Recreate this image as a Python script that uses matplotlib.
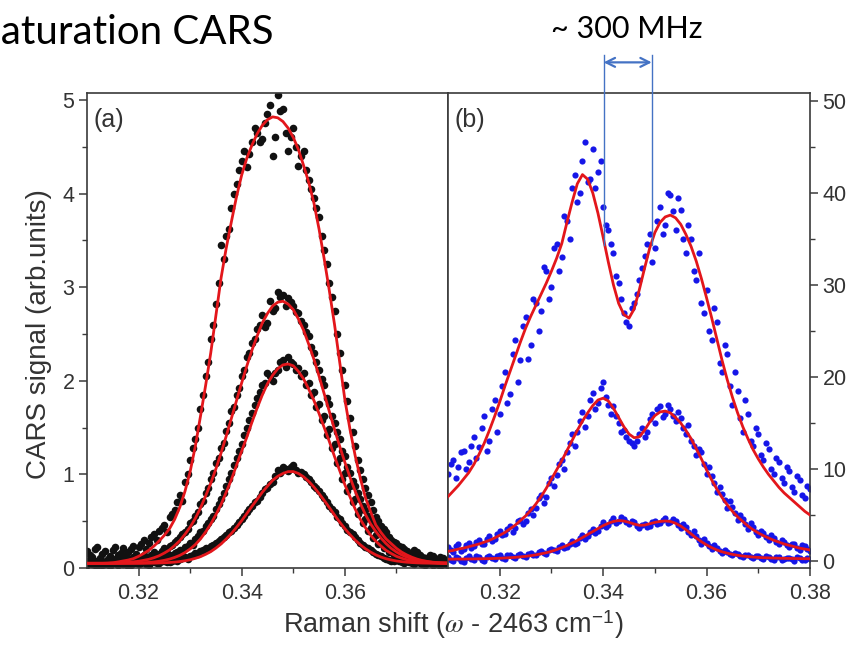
import numpy as np
import matplotlib.pyplot as plt
from matplotlib.ticker import FixedLocator

plt.rcParams['font.family'] = ['Liberation Sans', 'DejaVu Sans']
plt.rcParams['mathtext.fontset'] = 'stix'

# Raman shift grid (omega - 2463 cm^-1): samples every 0.001 plus the in-between ones
raman_shift = np.round(np.arange(0.310, 0.3805, 0.001), 4)
raman_shift_half = np.round(np.arange(0.3105, 0.3800, 0.001), 4)

# ---- panel (a): four pump powers, black data + red fits ----
a1_signal = [0.18, 0.12, 0.22, 0.15, 0.10, 0.19, 0.14, 0.21, 0.17, 0.24,
             0.22, 0.30, 0.27, 0.36, 0.40, 0.46, 0.55, 0.62, 0.78, 0.92,
             1.15, 1.38, 1.70, 2.05, 2.45, 2.82, 3.45, 3.55, 3.85, 4.10,
             4.35, 4.28, 4.55, 4.65, 4.58, 4.85, 4.40, 5.05, 4.90, 4.45,
             4.70, 4.30, 4.45, 4.15, 3.95, 3.75, 3.40, 3.05, 2.75, 2.30,
             1.95, 1.60, 1.30, 1.05, 0.85, 0.70, 0.55, 0.45, 0.38, 0.30,
             0.27, 0.22, 0.18, 0.15, 0.17, 0.12, 0.10, 0.13, 0.09, 0.11, 0.08]
a1_signal_half = [0.14, 0.20, 0.11, 0.18, 0.13, 0.22, 0.16, 0.12, 0.20, 0.15,
                  0.26, 0.20, 0.33, 0.30, 0.43, 0.38, 0.58, 0.70, 0.72, 1.00,
                  1.28, 1.50, 1.85, 2.20, 2.60, 3.05, 3.30, 3.62, 4.00, 4.25,
                  4.45, 4.42, 4.70, 4.55, 4.75, 4.95, 4.60, 4.88, 4.65, 4.60,
                  4.50, 4.40, 4.25, 4.05, 3.85, 3.55, 3.25, 2.90, 2.50, 2.12,
                  1.78, 1.45, 1.15, 0.95, 0.78, 0.62, 0.50, 0.42, 0.33, 0.28,
                  0.24, 0.20, 0.16, 0.19, 0.14, 0.11, 0.14, 0.10, 0.12, 0.09]
a1_fit = [0.05, 0.05, 0.05, 0.05, 0.05, 0.055, 0.065, 0.075, 0.085, 0.10,
          0.125, 0.155, 0.19, 0.235, 0.29, 0.35, 0.42, 0.52, 0.65, 0.82,
          1.03, 1.30, 1.62, 1.95, 2.30, 2.70, 3.10, 3.42, 3.70, 3.97,
          4.20, 4.38, 4.52, 4.64, 4.73, 4.79, 4.82, 4.81, 4.77, 4.70,
          4.60, 4.47, 4.30, 4.12, 3.90, 3.62, 3.30, 2.96, 2.60, 2.20,
          1.80, 1.48, 1.20, 0.96, 0.75, 0.60, 0.46, 0.38, 0.31, 0.26,
          0.21, 0.17, 0.14, 0.115, 0.095, 0.08, 0.07, 0.06, 0.055, 0.05, 0.05]

a2_signal = [0.06, 0.09, 0.04, 0.08, 0.05, 0.10, 0.07, 0.11, 0.08, 0.12,
             0.10, 0.14, 0.12, 0.17, 0.15, 0.21, 0.24, 0.28, 0.33, 0.38,
             0.48, 0.56, 0.68, 0.80, 0.95, 1.12, 1.28, 1.46, 1.68, 1.85,
             2.05, 2.25, 2.40, 2.55, 2.70, 2.62, 2.75, 2.95, 2.92, 2.88,
             2.80, 2.72, 2.60, 2.48, 2.30, 2.12, 1.95, 1.75, 1.55, 1.38,
             1.20, 1.02, 0.88, 0.74, 0.62, 0.52, 0.44, 0.36, 0.30, 0.25,
             0.22, 0.18, 0.15, 0.13, 0.12, 0.10, 0.09, 0.10, 0.08, 0.07, 0.09]
a2_signal_half = [0.07, 0.05, 0.09, 0.06, 0.08, 0.05, 0.09, 0.07, 0.10, 0.08,
                  0.11, 0.09, 0.14, 0.13, 0.18, 0.20, 0.25, 0.30, 0.36, 0.42,
                  0.50, 0.60, 0.72, 0.86, 1.02, 1.18, 1.34, 1.55, 1.72, 1.92,
                  2.12, 2.30, 2.45, 2.60, 2.58, 2.85, 2.78, 2.90, 2.80, 2.84,
                  2.74, 2.64, 2.52, 2.36, 2.20, 2.02, 1.82, 1.62, 1.45, 1.25,
                  1.08, 0.93, 0.80, 0.66, 0.56, 0.46, 0.39, 0.32, 0.27, 0.22,
                  0.18, 0.16, 0.13, 0.11, 0.09, 0.11, 0.08, 0.09, 0.06, 0.08]
a2_fit = [0.05, 0.05, 0.05, 0.05, 0.052, 0.053, 0.055, 0.058, 0.061, 0.066,
          0.072, 0.082, 0.093, 0.11, 0.131, 0.16, 0.193, 0.24, 0.292, 0.36,
          0.437, 0.53, 0.64, 0.77, 0.906, 1.06, 1.23, 1.41, 1.60, 1.79,
          1.98, 2.16, 2.33, 2.48, 2.62, 2.72, 2.80, 2.84, 2.85, 2.82,
          2.76, 2.66, 2.54, 2.39, 2.23, 2.05, 1.86, 1.67, 1.48, 1.30,
          1.13, 0.97, 0.82, 0.69, 0.57, 0.47, 0.39, 0.32, 0.26, 0.21,
          0.171, 0.14, 0.117, 0.10, 0.086, 0.076, 0.068, 0.062, 0.058, 0.056, 0.054]

a3_signal = [0.07, 0.04, 0.06, 0.03, 0.07, 0.05, 0.08, 0.04, 0.07, 0.06,
             0.09, 0.07, 0.10, 0.08, 0.11, 0.12, 0.14, 0.16, 0.19, 0.22,
             0.27, 0.31, 0.38, 0.45, 0.52, 0.63, 0.74, 0.88, 1.02, 1.18,
             1.32, 1.50, 1.66, 1.82, 1.95, 2.08, 2.00, 2.12, 2.22, 2.25,
             2.18, 2.14, 2.08, 1.98, 1.88, 1.75, 1.62, 1.48, 1.32, 1.18,
             1.02, 0.88, 0.74, 0.62, 0.52, 0.43, 0.35, 0.28, 0.23, 0.18,
             0.15, 0.12, 0.10, 0.09, 0.07, 0.08, 0.06, 0.07, 0.05, 0.06, 0.05]
a3_signal_half = [0.05, 0.07, 0.04, 0.06, 0.05, 0.07, 0.05, 0.06, 0.08, 0.05,
                  0.08, 0.06, 0.09, 0.10, 0.09, 0.13, 0.12, 0.17, 0.18, 0.24,
                  0.25, 0.34, 0.40, 0.48, 0.56, 0.68, 0.80, 0.95, 1.10, 1.25,
                  1.42, 1.58, 1.74, 1.88, 1.98, 2.05, 2.08, 2.20, 2.15, 2.20,
                  2.12, 2.05, 1.96, 1.85, 1.72, 1.58, 1.42, 1.28, 1.12, 0.95,
                  0.82, 0.70, 0.58, 0.48, 0.40, 0.32, 0.26, 0.21, 0.17, 0.14,
                  0.12, 0.10, 0.08, 0.09, 0.06, 0.07, 0.05, 0.06, 0.04, 0.06]
a3_fit = [0.05, 0.05, 0.05, 0.05, 0.05, 0.05, 0.05, 0.051, 0.052, 0.053,
          0.054, 0.057, 0.06, 0.065, 0.072, 0.082, 0.095, 0.113, 0.135, 0.165,
          0.203, 0.25, 0.31, 0.385, 0.47, 0.57, 0.68, 0.81, 0.945, 1.10,
          1.25, 1.40, 1.56, 1.71, 1.85, 1.97, 2.06, 2.13, 2.17, 2.18,
          2.16, 2.10, 2.02, 1.91, 1.79, 1.65, 1.50, 1.35, 1.19, 1.04,
          0.89, 0.76, 0.63, 0.52, 0.43, 0.35, 0.286, 0.235, 0.188, 0.155,
          0.125, 0.105, 0.089, 0.078, 0.069, 0.063, 0.059, 0.056, 0.054, 0.053, 0.052]

a4_signal = [0.03, 0.06, 0.02, 0.05, 0.04, 0.07, 0.03, 0.06, 0.02, 0.05,
             0.04, 0.07, 0.03, 0.06, 0.05, 0.08, 0.06, 0.09, 0.10, 0.12,
             0.13, 0.16, 0.18, 0.21, 0.24, 0.27, 0.31, 0.35, 0.40, 0.46,
             0.52, 0.60, 0.66, 0.72, 0.80, 0.86, 0.92, 1.05, 1.08, 1.04,
             1.10, 1.02, 1.00, 0.95, 0.88, 0.82, 0.75, 0.66, 0.60, 0.52,
             0.45, 0.38, 0.33, 0.27, 0.22, 0.19, 0.15, 0.13, 0.10, 0.08,
             0.09, 0.06, 0.07, 0.05, 0.06, 0.04, 0.05, 0.03, 0.05, 0.04, 0.03]
a4_signal_half = [0.05, 0.03, 0.06, 0.04, 0.02, 0.05, 0.07, 0.04, 0.03, 0.06,
                  0.05, 0.04, 0.07, 0.05, 0.07, 0.06, 0.08, 0.08, 0.11, 0.10,
                  0.14, 0.15, 0.19, 0.20, 0.25, 0.29, 0.33, 0.38, 0.43, 0.49,
                  0.56, 0.63, 0.70, 0.76, 0.84, 0.90, 0.98, 1.02, 1.06, 1.08,
                  1.05, 1.03, 0.97, 0.92, 0.85, 0.78, 0.70, 0.63, 0.55, 0.48,
                  0.41, 0.36, 0.30, 0.25, 0.21, 0.17, 0.14, 0.11, 0.09, 0.08,
                  0.07, 0.05, 0.06, 0.04, 0.05, 0.03, 0.05, 0.04, 0.02, 0.04]
a4_fit = [0.05, 0.05, 0.05, 0.05, 0.05, 0.05, 0.05, 0.05, 0.05, 0.05,
          0.05, 0.05, 0.051, 0.052, 0.054, 0.056, 0.059, 0.063, 0.069, 0.077,
          0.088, 0.103, 0.121, 0.146, 0.175, 0.213, 0.257, 0.31, 0.368, 0.435,
          0.506, 0.583, 0.66, 0.735, 0.81, 0.875, 0.937, 0.98, 1.01, 1.03,
          1.03, 1.01, 0.974, 0.925, 0.865, 0.795, 0.722, 0.645, 0.566, 0.49,
          0.42, 0.356, 0.298, 0.248, 0.205, 0.17, 0.14, 0.117, 0.099, 0.086,
          0.075, 0.068, 0.062, 0.058, 0.055, 0.053, 0.052, 0.051, 0.05, 0.05, 0.05]

# ---- panel (b): three pump powers, blue data + red fits ----
b1_signal = [9.5, 11.0, 10.2, 12.0, 10.8, 13.5, 12.4, 15.8, 13.0, 17.5,
             16.0, 20.5, 18.2, 24.0, 21.8, 26.5, 23.5, 28.0, 27.2, 31.5,
             29.8, 34.5, 33.0, 37.0, 40.5, 39.0, 43.5, 41.2, 44.8, 42.3,
             38.5, 36.0, 33.5, 30.2, 27.0, 25.5, 28.0, 30.5, 33.2, 35.5,
             34.0, 38.5, 36.5, 39.8, 36.0, 38.2, 33.5, 35.0, 30.5, 28.0,
             29.5, 24.0, 26.0, 20.5, 22.5, 17.0, 18.5, 14.0, 16.0, 12.5,
             13.8, 11.0, 12.2, 9.5, 10.8, 8.5, 9.8, 7.5, 8.8, 6.8, 7.8]
b1_signal_half = [10.5, 9.0, 11.8, 10.0, 12.5, 11.2, 14.5, 12.0, 16.5, 14.0,
                  19.0, 17.2, 22.5, 19.5, 25.5, 22.0, 28.5, 25.0, 32.0, 28.5,
                  34.0, 31.5, 37.5, 35.0, 42.0, 40.0, 45.5, 41.5, 40.5, 43.5,
                  36.5, 34.5, 31.0, 28.5, 26.0, 27.5, 29.0, 31.8, 34.5, 32.5,
                  37.0, 35.5, 40.0, 38.0, 39.5, 35.0, 36.5, 31.5, 33.5, 27.0,
                  25.0, 27.5, 21.5, 23.5, 19.0, 20.5, 15.5, 17.5, 13.0, 14.5,
                  11.5, 12.8, 10.0, 11.2, 9.0, 10.2, 8.0, 9.2, 7.2, 8.2]
b1_fit = [7.0, 7.6, 8.2, 8.9, 9.6, 10.5, 11.6, 12.8, 14.2, 15.7,
          17.3, 19.0, 20.6, 22.2, 23.8, 25.3, 26.6, 27.8, 29.0, 30.2,
          31.5, 32.9, 34.5, 36.8, 39.0, 41.0, 42.0, 41.5, 40.0, 37.8,
          35.2, 32.5, 30.0, 28.0, 26.8, 26.4, 27.4, 29.5, 31.8, 34.0,
          35.7, 36.8, 37.4, 37.6, 37.3, 36.6, 35.5, 34.2, 32.6, 30.7,
          28.6, 26.4, 24.1, 21.8, 19.7, 17.8, 16.1, 14.6, 13.3, 12.1,
          11.1, 10.2, 9.4, 8.7, 8.0, 7.4, 6.9, 6.4, 5.9, 5.4, 5.0]

b2_signal = [1.5, 1.0, 1.8, 1.3, 2.0, 1.6, 2.3, 1.9, 2.7, 2.4,
             3.3, 2.9, 3.8, 3.6, 4.5, 4.3, 5.6, 5.8, 7.2, 7.0,
             9.0, 9.3, 11.0, 11.8, 13.8, 14.0, 16.2, 15.8, 18.3, 17.2,
             19.5, 17.0, 16.8, 15.0, 14.2, 13.0, 12.5, 13.8, 13.5, 15.4,
             15.0, 16.8, 16.0, 16.5, 15.2, 15.5, 13.8, 13.0, 11.5, 11.8,
             9.5, 9.2, 7.5, 7.3, 5.8, 5.9, 4.5, 4.6, 3.5, 3.7,
             2.8, 3.0, 2.3, 2.5, 1.9, 2.1, 1.5, 1.8, 1.2, 1.6, 1.1]
b2_signal_half = [1.2, 1.6, 1.1, 1.7, 1.4, 2.1, 1.8, 2.4, 2.2, 2.9,
                  2.8, 3.5, 3.2, 4.3, 4.0, 5.2, 5.0, 6.8, 6.3, 8.5,
                  8.2, 10.5, 10.0, 12.8, 12.5, 15.2, 14.6, 17.5, 16.5, 18.8,
                  17.8, 16.0, 15.8, 14.0, 13.5, 12.8, 13.0, 14.5, 14.0, 16.0,
                  16.5, 15.6, 17.0, 15.8, 16.2, 14.5, 14.8, 12.5, 12.2, 10.5,
                  10.2, 8.5, 8.0, 6.6, 6.5, 5.2, 5.0, 4.0, 4.1, 3.2,
                  3.3, 2.6, 2.8, 2.1, 2.3, 1.7, 1.9, 1.4, 1.7, 1.3]
b2_fit = [1.05, 1.15, 1.3, 1.4, 1.55, 1.7, 1.85, 2.05, 2.25, 2.5,
          2.8, 3.1, 3.5, 3.9, 4.4, 4.9, 5.5, 6.2, 7.0, 7.9,
          8.9, 9.9, 10.9, 12.0, 13.1, 14.2, 15.2, 16.1, 16.9, 17.5,
          17.7, 17.4, 16.6, 15.6, 14.6, 13.8, 13.4, 13.5, 14.2, 15.1,
          15.8, 16.2, 16.3, 16.1, 15.6, 15.0, 14.2, 13.3, 12.2, 11.1,
          9.9, 8.8, 7.8, 6.9, 6.1, 5.4, 4.8, 4.3, 3.8, 3.4,
          3.05, 2.75, 2.5, 2.25, 2.05, 1.85, 1.7, 1.55, 1.4, 1.3, 1.2]

b3_signal = [0.4, 0.0, 0.3, -0.1, 0.5, 0.1, 0.4, 0.0, 0.5, 0.2,
             0.6, 0.2, 0.7, 0.3, 0.8, 0.4, 0.9, 0.6, 1.1, 0.8,
             1.3, 1.1, 1.7, 1.5, 2.2, 2.0, 2.8, 2.7, 3.5, 3.3,
             4.2, 3.9, 4.7, 4.3, 4.6, 4.0, 4.2, 3.6, 4.0, 3.8,
             4.4, 4.1, 4.7, 4.2, 4.4, 3.6, 3.7, 2.8, 2.7, 1.9,
             2.0, 1.3, 1.4, 0.9, 1.0, 0.6, 0.8, 0.4, 0.6, 0.3,
             0.5, 0.2, 0.4, 0.1, 0.4, 0.2, 0.3, 0.0, 0.3, 0.1, 0.2]
b3_signal_half = [0.1, 0.4, 0.0, 0.3, 0.2, 0.5, 0.1, 0.4, 0.3, 0.5,
                  0.3, 0.6, 0.4, 0.7, 0.5, 0.8, 0.7, 1.0, 0.9, 1.2,
                  1.2, 1.5, 1.4, 1.9, 1.8, 2.5, 2.4, 3.1, 3.0, 3.8,
                  3.7, 4.4, 4.1, 4.8, 4.2, 4.3, 3.8, 3.9, 3.7, 4.2,
                  4.0, 4.5, 4.1, 4.6, 3.9, 4.0, 3.2, 3.3, 2.3, 2.4,
                  1.6, 1.7, 1.1, 1.2, 0.8, 0.9, 0.5, 0.7, 0.4, 0.5,
                  0.3, 0.5, 0.2, 0.4, 0.1, 0.3, 0.2, 0.4, 0.1, 0.3]
b3_fit = [0.20, 0.20, 0.21, 0.21, 0.22, 0.23, 0.24, 0.25, 0.26, 0.28,
          0.30, 0.33, 0.36, 0.40, 0.45, 0.51, 0.58, 0.67, 0.78, 0.90,
          1.05, 1.24, 1.45, 1.69, 1.95, 2.24, 2.55, 2.88, 3.20, 3.53,
          3.85, 4.10, 4.30, 4.40, 4.35, 4.20, 4.02, 3.88, 3.90, 4.05,
          4.20, 4.30, 4.35, 4.30, 4.10, 3.80, 3.40, 2.95, 2.50, 2.10,
          1.75, 1.45, 1.20, 1.00, 0.85, 0.72, 0.62, 0.54, 0.48, 0.43,
          0.39, 0.36, 0.34, 0.32, 0.30, 0.29, 0.28, 0.27, 0.26, 0.25, 0.25]

# splitting marked above panel (b): the two peaks of the middle trace
split_x = [0.3401, 0.3494]

red = '#e3161b'
blue_dots = '#1616e8'
note_blue = '#4472c4'
axis_grey = '#3a3a3a'

fig = plt.figure(figsize=(8.54, 6.48), dpi=100)
ax1 = fig.add_axes([87 / 854, 80 / 648, 361 / 854, 475 / 648])
ax2 = fig.add_axes([448 / 854, 80 / 648, 362 / 854, 475 / 648])

a_data = [(a1_signal, a1_signal_half, a1_fit), (a2_signal, a2_signal_half, a2_fit),
          (a3_signal, a3_signal_half, a3_fit), (a4_signal, a4_signal_half, a4_fit)]
for sig, sig_half, fit in a_data:
    ax1.scatter(raman_shift, sig, s=30, c='#111111', linewidths=0, zorder=2)
    ax1.scatter(raman_shift_half, sig_half, s=30, c='#111111', linewidths=0, zorder=2)
    ax1.plot(raman_shift, fit, color=red, lw=2, zorder=3)

b_data = [(b1_signal, b1_signal_half, b1_fit), (b2_signal, b2_signal_half, b2_fit),
          (b3_signal, b3_signal_half, b3_fit)]
for sig, sig_half, fit in b_data:
    ax2.scatter(raman_shift, sig, s=20, c=blue_dots, linewidths=0, zorder=2)
    ax2.scatter(raman_shift_half, sig_half, s=20, c=blue_dots, linewidths=0, zorder=2)
    ax2.plot(raman_shift, fit, color=red, lw=2, zorder=3)

ax1.set_xlim(0.31, 0.38)
ax1.set_ylim(0, 5.075)
ax2.set_xlim(0.31, 0.38)
ax2.set_ylim(-0.76, 50.87)

ax1.xaxis.set_major_locator(FixedLocator([0.32, 0.34, 0.36]))
ax1.xaxis.set_minor_locator(FixedLocator([0.33, 0.35, 0.37]))
ax1.yaxis.set_major_locator(FixedLocator([0, 1, 2, 3, 4, 5]))
ax1.yaxis.set_minor_locator(FixedLocator([0.5, 1.5, 2.5, 3.5, 4.5]))
ax1.set_xticklabels(['0.32', '0.34', '0.36'])

ax2.xaxis.set_major_locator(FixedLocator([0.32, 0.34, 0.36, 0.38]))
ax2.xaxis.set_minor_locator(FixedLocator([0.33, 0.35, 0.37]))
ax2.set_xticklabels(['0.32', '0.34', '0.36', '0.38'])
ax2.yaxis.tick_right()
ax2.yaxis.set_major_locator(FixedLocator([0, 10, 20, 30, 40, 50]))
ax2.yaxis.set_minor_locator(FixedLocator([5, 15, 25, 35, 45]))

for ax in (ax1, ax2):
    for sp in ax.spines.values():
        sp.set_color(axis_grey)
        sp.set_linewidth(1.2)
    ax.tick_params(which='major', direction='out', length=6, width=1.1,
                   color=axis_grey, labelcolor='#333333', labelsize=15.5)
    ax.tick_params(which='minor', direction='out', length=3.5, width=1.0,
                   color=axis_grey)
    ax.tick_params(axis='x', pad=5)
    ax.tick_params(axis='y', pad=3)

ax1.text(0.017, 0.968, '(a)', transform=ax1.transAxes, va='top', ha='left',
         fontsize=18, color='#333333')
ax2.text(0.019, 0.968, '(b)', transform=ax2.transAxes, va='top', ha='left',
         fontsize=18, color='#333333')

fig.text(39 / 854, 0.4846, 'CARS signal (arb.units)', rotation=90,
         ha='center', va='center', fontsize=20, color='#333333')
fig.text(453 / 854, (648 - 625) / 648,
         r'Raman shift ($\omega$ - 2463 cm$^{\mathregular{-1}}$)',
         ha='center', va='center', fontsize=19.5, color='#333333')

# slide title (cut off at the left edge, as on the slide) and splitting note
fig.text(-21 / 854, (648 - 44) / 648, 'Saturation CARS', fontsize=29,
         family=['Lato', 'DejaVu Sans'], va='baseline', ha='left', color='black')
fig.text(627 / 854, (648 - 38) / 648, '~ 300 MHz', fontsize=22,
         family=['Lato', 'DejaVu Sans'], va='baseline', ha='center', color='black')

for xs in split_x:
    ax2.plot([xs, xs], [34.35, 55.0], color=note_blue, lw=1.0, clip_on=False, zorder=5)
ax2.annotate('', xy=(split_x[0], 54.2), xytext=(split_x[1], 54.2),
             arrowprops=dict(arrowstyle='<->', color=note_blue, lw=1.6,
                             mutation_scale=16, shrinkA=0, shrinkB=0),
             annotation_clip=False)

plt.savefig('out.png', dpi=100)
